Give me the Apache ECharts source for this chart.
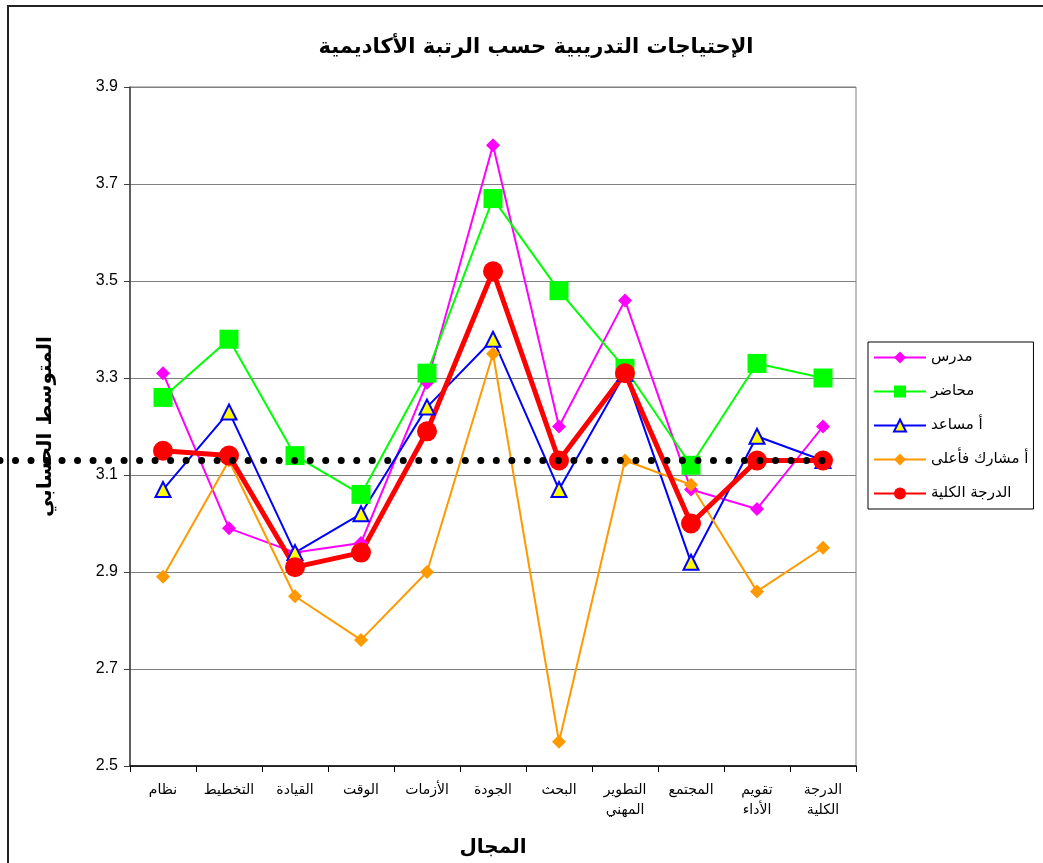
<!DOCTYPE html>
<html>
<head>
<meta charset="utf-8">
<script src="https://cdn.jsdelivr.net/npm/echarts@6/dist/echarts.min.js"></script>
<style>
  html, body { margin: 0; padding: 0; background: #fff; }
  #wrap { position: relative; width: 1043px; height: 863px; }
  #chart { width: 1043px; height: 863px; }
  #frame { position: absolute; left: 7px; top: 5px; right: 0; bottom: 0;
           border-left: 2px solid #222; border-top: 2px solid #222; pointer-events: none; }
</style>
</head>
<body>
<div id="wrap">
  <div id="frame"></div>
  <div id="chart"></div>
</div>
<script>
// المجالات (محور س)
var categories = ['نظام', 'التخطيط', 'القيادة', 'الوقت', 'الأزمات', 'الجودة', 'البحث',
                  'التطوير\nالمهني', 'المجتمع', 'تقويم\nالأداء', 'الدرجة\nالكلية'];

// المتوسطات حسب الرتبة الأكاديمية
var mudarris   = [3.31, 2.99, 2.94, 2.96, 3.29, 3.78, 3.20, 3.46, 3.07, 3.03, 3.20];
var muhadir    = [3.26, 3.38, 3.14, 3.06, 3.31, 3.67, 3.48, 3.32, 3.12, 3.33, 3.30];
var musaid     = [3.07, 3.23, 2.94, 3.02, 3.24, 3.38, 3.07, 3.31, 2.92, 3.18, 3.13];
var musharik   = [2.89, 3.13, 2.85, 2.76, 2.90, 3.35, 2.55, 3.13, 3.08, 2.86, 2.95];
var kulliya    = [3.15, 3.14, 2.91, 2.94, 3.19, 3.52, 3.13, 3.31, 3.00, 3.13, 3.13];

// الخط المنقط (المتوسط العام)
var overallMean = 3.13;

var arFont = "'DejaVu Sans', 'Noto Sans', sans-serif";

var myChart = echarts.init(document.getElementById('chart'));

var option = {
    animation: false,
    title: {
        text: 'الإحتياجات التدريبية حسب الرتبة الأكاديمية',
        left: 531,
        textAlign: 'center',
        top: 32,
        textStyle: { color: '#000', fontSize: 21, fontWeight: 'bold', fontFamily: arFont }
    },
    legend: {
        orient: 'vertical',
        left: 868,
        top: 342,
        padding: [8, 5, 8, 5],
        itemGap: 19,
        itemWidth: 52,
        itemHeight: 15,
        backgroundColor: '#fff',
        borderColor: '#000',
        borderWidth: 1,
        textStyle: { color: '#000', fontSize: 15, fontFamily: arFont },
        data: ['مدرس', 'محاضر', 'أ مساعد', 'أ مشارك فأعلى', 'الدرجة الكلية']
    },
    grid: {
        left: 130,
        right: 187,
        top: 87,
        bottom: 97,
        show: true,
        borderColor: '#808080',
        borderWidth: 1
    },
    xAxis: {
        type: 'category',
        data: categories,
        boundaryGap: true,
        name: 'المجال',
        nameLocation: 'middle',
        nameGap: 72,
        nameTextStyle: { color: '#000', fontSize: 20, fontWeight: 'bold', fontFamily: arFont },
        axisLine: { lineStyle: { color: '#000', width: 1.5 } },
        axisTick: { show: true, length: 6, lineStyle: { color: '#000' } },
        axisLabel: { color: '#000', fontSize: 14, lineHeight: 20, margin: 14, interval: 0, fontFamily: arFont },
        splitLine: { show: false }
    },
    yAxis: {
        type: 'value',
        min: 2.5,
        max: 3.9,
        interval: 0.2,
        name: 'المتوسط الحسابي',
        nameLocation: 'middle',
        nameGap: 74,
        nameTextStyle: { color: '#000', fontSize: 20, fontWeight: 'bold', fontFamily: arFont },
        axisLine: { show: true, lineStyle: { color: '#404040', width: 1.5 } },
        axisTick: { show: true, length: 6, lineStyle: { color: '#404040' } },
        axisLabel: {
            color: '#000', fontSize: 16, margin: 12, fontFamily: "'Liberation Sans', Arial, sans-serif",
            formatter: function (v) { return v.toFixed(1); }
        },
        splitLine: { show: true, lineStyle: { color: '#808080', width: 1 } }
    },
    series: [
        {
            name: 'مدرس',
            type: 'line',
            data: mudarris,
            symbol: 'diamond',
            symbolSize: 14,
            lineStyle: { color: '#FF00FF', width: 2 },
            itemStyle: { color: '#FF00FF' }
        },
        {
            name: 'محاضر',
            type: 'line',
            data: muhadir,
            symbol: 'rect',
            symbolSize: 19,
            lineStyle: { color: '#00FF00', width: 2 },
            itemStyle: { color: '#00FF00' }
        },
        {
            name: 'أ مساعد',
            type: 'line',
            data: musaid,
            symbol: 'triangle',
            symbolSize: 15,
            lineStyle: { color: '#0000FF', width: 2 },
            itemStyle: { color: '#FFFF00', borderColor: '#0000FF', borderWidth: 2 }
        },
        {
            name: 'أ مشارك فأعلى',
            type: 'line',
            data: musharik,
            symbol: 'diamond',
            symbolSize: 14,
            lineStyle: { color: '#FF9900', width: 2 },
            itemStyle: { color: '#FF9900' }
        },
        {
            name: 'الدرجة الكلية',
            type: 'line',
            data: kulliya,
            symbol: 'circle',
            symbolSize: 20,
            lineStyle: { color: '#FF0000', width: 5 },
            itemStyle: { color: '#FF0000' },
            markLine: {
                silent: true,
                symbol: ['none', 'none'],
                label: { show: false },
                lineStyle: { color: '#000', width: 7, type: [0.01, 15.5], cap: 'round' },
                data: [[
                    { coord: [0, overallMean], x: 0 },
                    { coord: [categories.length - 1, overallMean], x: 830 }
                ]]
            }
        }
    ]
};

myChart.setOption(option);
</script>
</body>
</html>
